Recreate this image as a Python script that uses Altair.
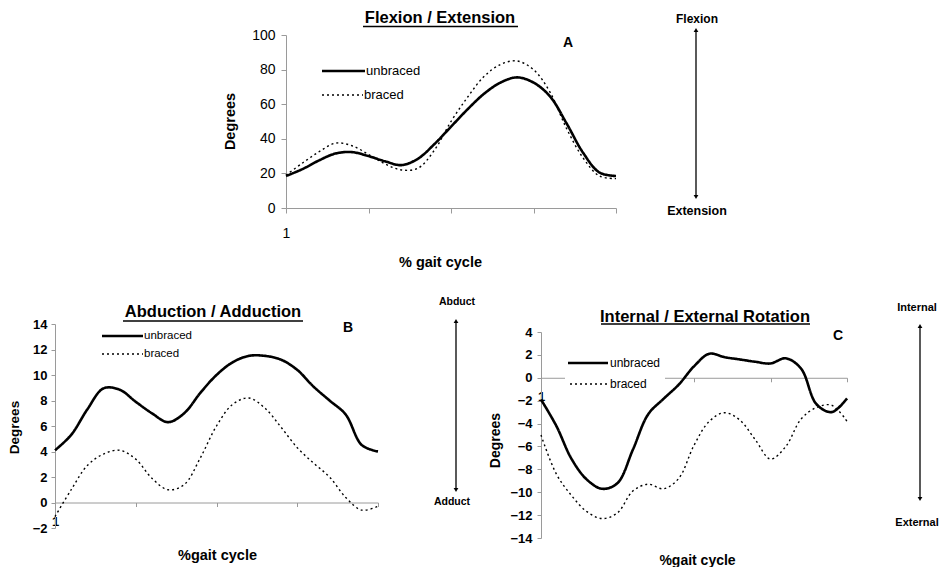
import altair as alt
import pandas as pd

FONT = "Liberation Sans"

# % gait cycle sample points
pct = [1, 6, 11, 16, 21, 26, 31, 36, 41, 46, 51, 56, 61, 66, 71, 76, 81, 86, 91, 96, 101]
series_names = ["unbraced", "braced"]

# Panel A: Flexion / Extension (degrees)
flex_unbraced = [18.5, 22.5, 27.5, 31.5, 32.3, 30, 27, 24.8, 28.5, 37, 47, 57, 66, 72.5, 75.5, 72.5, 64.5, 49, 32, 20.5, 18.5]
flex_braced = [19, 26, 32.5, 37.5, 36, 31, 25.5, 22, 23, 33.5, 50, 64, 76, 83, 85, 80, 67, 46, 29, 18.5, 17]
# Panel B: Abduction / Adduction (degrees)
abd_unbraced = [4.1, 5.3, 7.3, 8.95, 8.85, 7.9, 7.0, 6.3, 7.0, 8.6, 10.0, 11.0, 11.5, 11.5, 11.2, 10.4, 9.1, 8.0, 6.9, 4.5, 4.0]
abd_braced = [-1.1, 1.0, 2.9, 3.8, 4.1, 3.4, 1.9, 1.0, 1.4, 3.5, 6.0, 7.7, 8.2, 7.4, 5.9, 4.3, 3.1, 2.0, 0.4, -0.6, -0.3]
# Panel C: Internal / External Rotation (degrees)
rot_unbraced = [-1.9, -4.2, -7.1, -8.9, -9.7, -9.2, -6.3, -3.2, -1.85, -0.6, 1.0, 2.1, 1.8, 1.6, 1.4, 1.25, 1.7, 0.8, -2.3, -3.0, -1.8]
rot_braced = [-5.0, -8.4, -10.3, -11.7, -12.3, -11.8, -9.9, -9.3, -9.7, -8.8, -5.9, -3.8, -3.05, -3.7, -5.4, -7.1, -6.0, -3.6, -2.6, -2.4, -3.8]

x_ticks = [1, 26, 51, 76, 101]
GRAY = "#9a9a9a"
W, H = 933, 559

one = pd.DataFrame({"k": [0]})


def make_df(u, b):
    return pd.DataFrame({
        "pct": pct + pct,
        "deg": u + b,
        "series": ["unbraced"] * len(pct) + ["braced"] * len(pct),
    })


def text(t, x, y, size, weight="bold", align="center"):
    return alt.Chart(one).mark_text(
        text=t, font=FONT, fontSize=size, fontWeight=weight,
        align=align, baseline="middle", color="black"
    ).encode(x=alt.value(x), y=alt.value(y))


def hrule(x, x2, y, width=1.0, dash=None, color="black"):
    kw = dict(color=color, strokeWidth=width)
    if dash:
        kw["strokeDash"] = dash
    return alt.Chart(one).mark_rule(**kw).encode(
        x=alt.value(x), x2=alt.value(x2), y=alt.value(y))


def arrow(x, ytop, ybot):
    shaft = alt.Chart(one).mark_rule(color="black", strokeWidth=1.3).encode(
        x=alt.value(x), y=alt.value(ytop + 3), y2=alt.value(ybot - 3))
    up = alt.Chart(one).mark_point(shape="triangle-up", filled=True, size=22,
                                   color="black", opacity=1).encode(
        x=alt.value(x), y=alt.value(ytop + 3))
    down = alt.Chart(one).mark_point(shape="triangle-down", filled=True, size=22,
                                     color="black", opacity=1).encode(
        x=alt.value(x), y=alt.value(ybot - 3))
    return [shaft, up, down]


def box(x, x2, y, y2, color="white"):
    return alt.Chart(one).mark_rect(color=color).encode(
        x=alt.value(x), x2=alt.value(x2), y=alt.value(y), y2=alt.value(y2))


def lines(df, ydom, yvals, xrange_, yrange_, ykw, xkw):
    yaxis = dict(values=yvals, grid=False, orient="left", domainColor=GRAY,
                 tickColor=GRAY, labelColor="black", labelFont=FONT,
                 titleFont=FONT, titleColor="black", titleFontWeight="bold",
                 titleAngle=270, titleAlign="center", titleBaseline="middle",
                 title="Degrees", labelFlush=False, labelOverlap=False)
    yaxis.update(ykw)
    xaxis = dict(values=x_ticks, labelExpr="datum.value == 1 ? '1' : ''",
                 orient="bottom", grid=False, domainColor=GRAY, tickColor=GRAY,
                 labelColor="black", labelFont=FONT, titleFont=FONT,
                 titleColor="black", titleFontWeight="bold",
                 titleAlign="center", titleBaseline="middle",
                 labelFlush=False, labelOverlap=False)
    xaxis.update(xkw)
    return alt.Chart(df).mark_line(interpolate="catmull-rom", color="black").encode(
        x=alt.X("pct:Q", scale=alt.Scale(domain=[1, 101], range=xrange_, nice=False, zero=False),
                axis=alt.Axis(**xaxis)),
        y=alt.Y("deg:Q", scale=alt.Scale(domain=ydom, range=yrange_, nice=False, zero=False),
                axis=alt.Axis(**yaxis)),
        strokeDash=alt.StrokeDash("series:N", scale=alt.Scale(domain=series_names, range=[[1, 0], [2, 3]]), legend=None),
        strokeWidth=alt.StrokeWidth("series:N", scale=alt.Scale(domain=series_names, range=[2.6, 1.4]), legend=None),
    )


# ---------- Panel A: plot x 278..608, y 27 (100) .. 200 (0) ----------
A_x0, A_x1, A_top, A_bot = 278, 608, 27, 200
linesA = lines(
    make_df(flex_unbraced, flex_braced), [0, 100], list(range(0, 101, 20)),
    [A_x0, A_x1], [A_bot, A_top],
    dict(offset=-A_x0, labelFontSize=14, tickSize=5, labelPadding=6,
         titleFontSize=14.5, titleX=-56, titleY=113),
    dict(offset=A_bot - H, labelFontSize=14, tickSize=5, labelPadding=13.5,
         title="% gait cycle", titleFontSize=14.5, titleX=432, titleY=54),
)
layersA = [
    linesA,
    hrule(314, 357, 63, width=2.6),
    text("unbraced", 358, 63, 13, weight="normal", align="left"),
    hrule(314, 355, 87, width=1.4, dash=[2, 3]),
    text("braced", 356, 87, 13, weight="normal", align="left"),
    text("Flexion / Extension", 432, 9.5, 16.5),
    hrule(355, 510, 18.5, width=1.3),
    text("A", 560, 35, 14),
    text("Flexion", 689, 11, 12),
    text("Extension", 689, 203, 12.5),
    *arrow(688, 19, 192),
]

# ---------- Panel B: plot x 47..370, y 316 (14) .. 520 (-2) ----------
B_x0, B_x1, B_top, B_bot = 47, 370, 316, 520
B_zero = B_bot - 2 * (B_bot - B_top) / 16
linesB = lines(
    make_df(abd_unbraced, abd_braced), [-2, 14], list(range(-2, 15, 2)),
    [B_x0, B_x1], [B_bot, B_top],
    dict(offset=-B_x0, labelFontSize=13, labelFontWeight="bold", tickSize=4,
         labelPadding=4, titleFontSize=13.5, titleX=-41, titleY=419),
    dict(offset=B_zero - H, labelFontSize=13, labelFontWeight="bold",
         tickSize=4, labelPadding=9, title="%gait cycle", titleFontSize=14.5,
         titleX=209, titleY=52.5),
)
layersB = [
    linesB,
    hrule(94, 135, 328, width=2.4),
    text("unbraced", 136, 328, 11.5, weight="normal", align="left"),
    hrule(94, 135, 346, width=1.4, dash=[2, 3]),
    text("braced", 136, 346, 11.5, weight="normal", align="left"),
    text("Abduction / Adduction", 205, 304, 16.5),
    hrule(115, 295, 313, width=1.3),
    text("B", 340, 320, 14),
    text("Abduct", 449, 294, 10.5),
    text("Adduct", 444, 494, 10.5),
    *arrow(448, 310, 485),
]

# ---------- Panel C: plot x 533..839, y 324 (4) .. 530 (-14) ----------
C_x0, C_x1, C_top, C_bot = 533, 839, 324, 530
C_zero = C_top + 4 * (C_bot - C_top) / 18
linesC = lines(
    make_df(rot_unbraced, rot_braced), [-14, 4], list(range(-14, 5, 2)),
    [C_x0, C_x1], [C_bot, C_top],
    dict(offset=-C_x0, labelFontSize=13, labelFontWeight="bold", tickSize=4,
         labelPadding=5, titleFontSize=14, titleX=-46, titleY=432),
    dict(offset=C_zero - H, labelFontSize=13, labelFontWeight="bold",
         tickSize=4, labelPadding=9, title="%gait cycle", titleFontSize=14,
         titleX=689, titleY=183),
)
layersC = [
    box(557, 657, 345, 385),
    linesC,
    hrule(560, 600, 355, width=2.6),
    text("unbraced", 602, 355, 12, weight="normal", align="left"),
    hrule(562, 600, 376, width=1.3, dash=[2, 3]),
    text("braced", 602, 376, 12, weight="normal", align="left"),
    text("Internal / External Rotation", 697, 309, 16.5),
    hrule(593, 802, 316, width=1.3),
    text("C", 830, 328, 14),
    text("Internal", 909, 300, 11),
    text("External", 909, 515, 11),
    *arrow(912, 315, 494),
]

chart = alt.layer(*layersA, *layersB, *layersC).resolve_scale(
    x="independent", y="independent"
).properties(
    width=W, height=H, padding=0,
    autosize=alt.AutoSizeParams(type="none"),
).configure_view(stroke=None)

chart.save("out.html", embed_options={"renderer": "svg", "actions": False})
